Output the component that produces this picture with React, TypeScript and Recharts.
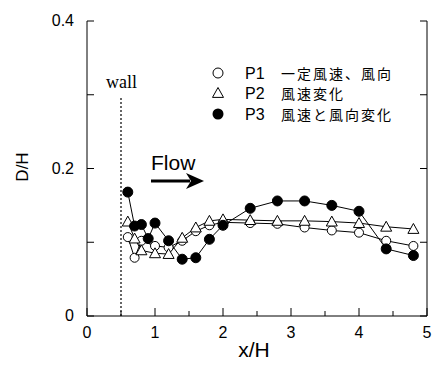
import React from 'react';
import { LineChart, Line, XAxis, YAxis, ReferenceLine, Customized } from 'recharts';

const xP1 = [0.6, 0.7, 0.8, 1.0, 1.2, 1.4, 1.6, 1.8, 2.0, 2.4, 2.8, 3.2, 3.6, 4.0, 4.4, 4.8];
const yP1 = [0.107, 0.079, 0.102, 0.095, 0.093, 0.102, 0.115, 0.123, 0.127, 0.126, 0.125, 0.12, 0.116, 0.113, 0.102, 0.095];
const xP2 = [0.6, 0.7, 0.8, 1.0, 1.2, 1.4, 1.6, 1.8, 2.0, 2.4, 2.8, 3.2, 3.6, 4.0, 4.4, 4.8];
const yP2 = [0.128, 0.105, 0.089, 0.085, 0.084, 0.106, 0.12, 0.129, 0.131, 0.13, 0.129, 0.129, 0.128, 0.126, 0.121, 0.118];
const xP3 = [0.6, 0.7, 0.8, 0.9, 1.0, 1.2, 1.4, 1.6, 1.8, 2.0, 2.4, 2.8, 3.2, 3.6, 4.0, 4.4, 4.8];
const yP3 = [0.168, 0.122, 0.124, 0.105, 0.126, 0.102, 0.077, 0.079, 0.104, 0.123, 0.146, 0.156, 0.156, 0.15, 0.142, 0.091, 0.082];

const xTicks = [0, 0.5, 1, 1.5, 2, 2.5, 3, 3.5, 4, 4.5, 5];
const yTicks = [0, 0.1, 0.2, 0.3, 0.4];
const yLabeled = [0, 0.2, 0.4];
const seriesNames = ['P1', 'P2', 'P3'];
const seriesDesc = ['一定風速、風向', '風速変化', '風速と風向変化'];
const wallX = 0.5;
const wallTop = 0.297;

const toData = (xs: number[], ys: number[]) => xs.map((x, i) => ({ x, y: ys[i] }));
const d1 = toData(xP1, yP1);
const d2 = toData(xP2, yP2);
const d3 = toData(xP3, yP3);

const SANS = '"Liberation Sans", Arial, Helvetica, sans-serif';
const CJK = '"Noto Sans CJK JP", "Liberation Sans", sans-serif';

const isInt = (v: number) => Math.abs(v - Math.round(v)) < 1e-9;

const BottomTick = (p: any) => {
  const v = p.payload.value;
  const major = isInt(v);
  return (
    <g>
      <line x1={p.x} x2={p.x} y1={p.y} y2={p.y - (major ? 8 : 5)} stroke="#000" strokeWidth={1} />
      {major && (
        <text x={p.x} y={p.y + 22} textAnchor="middle" fontSize={16} fontFamily={SANS} fill="#000">
          {String(v)}
        </text>
      )}
    </g>
  );
};

const TopTick = (p: any) => {
  const v = p.payload.value;
  const major = isInt(v);
  return <line x1={p.x} x2={p.x} y1={p.y} y2={p.y + (major ? 8 : 5)} stroke="#000" strokeWidth={1} />;
};

const LeftTick = (p: any) => {
  const v = p.payload.value;
  const lab = yLabeled.some((t) => Math.abs(t - v) < 1e-9);
  return (
    <g>
      <line x1={p.x} x2={p.x + 7} y1={p.y} y2={p.y} stroke="#000" strokeWidth={1} />
      {lab && (
        <text x={p.x - 13} y={p.y + 5} textAnchor="end" fontSize={16} fontFamily={SANS} fill="#000">
          {v === 0 ? '0' : v.toFixed(1)}
        </text>
      )}
    </g>
  );
};

const RightTick = (p: any) => (
  <line x1={p.x} x2={p.x - 7} y1={p.y} y2={p.y} stroke="#000" strokeWidth={1} />
);

const TriDot = (p: any) => {
  const { cx, cy } = p;
  if (cx == null || cy == null) return null;
  const s = 5.5;
  return (
    <polygon
      key={`t-${cx}-${cy}`}
      points={`${cx},${cy - s} ${cx - s},${cy + s * 0.8} ${cx + s},${cy + s * 0.8}`}
      fill="#fff"
      stroke="#000"
      strokeWidth={1}
    />
  );
};

const Annotations = () => {
  const rows = [73, 93, 114];
  return (
    <g>
      <text x={106} y={88} fontSize={18} fontFamily='"Liberation Serif", "Times New Roman", serif' fill="#000">
        wall
      </text>
      <text x={151} y={170} fontSize={21} fontFamily={SANS} fill="#000">
        Flow
      </text>
      <line x1={151} x2={190} y1={181} y2={181} stroke="#000" strokeWidth={3} />
      <polygon points="186,173 204,181 186,189 191,181" fill="#000" />
      <text x={22} y={167} fontSize={17} fontFamily={SANS} fill="#000" textAnchor="middle" transform="rotate(-90 22 167)" dominantBaseline="central">
        D/H
      </text>
      <text x={254} y={357} fontSize={21} fontFamily={SANS} fill="#000" textAnchor="middle">
        x/H
      </text>
      {/* legend */}
      <circle cx={218} cy={rows[0]} r={5} fill="#fff" stroke="#000" strokeWidth={1} />
      <polygon points={`218,${rows[1] - 5.5} 212.5,${rows[1] + 4.4} 223.5,${rows[1] + 4.4}`} fill="#fff" stroke="#000" strokeWidth={1} />
      <circle cx={218} cy={rows[2]} r={5.5} fill="#000" />
      {seriesNames.map((n, i) => (
        <g key={n}>
          <text x={245} y={rows[i] + 6} fontSize={16} fontFamily={SANS} fill="#000">
            {n}
          </text>
          <text x={281} y={rows[i] + 6} fontSize={14} letterSpacing={2} fontFamily={CJK} fill="#000">
            {seriesDesc[i]}
          </text>
        </g>
      ))}
    </g>
  );
};

export default function App() {
  return (
    <div style={{ position: 'absolute', left: 0, top: 0, width: 436, height: 374, background: '#fff' }}>
      <LineChart width={436} height={374} margin={{ top: 21, right: 0, bottom: 0, left: 0 }}>
        <XAxis
          xAxisId="bottom"
          type="number"
          dataKey="x"
          domain={[0, 5]}
          ticks={xTicks}
          interval={0}
          height={58}
          tickSize={0}
          tickMargin={0}
          tick={<BottomTick />}
          axisLine={{ stroke: '#000', strokeWidth: 1 }}
          allowDataOverflow
        />
        <XAxis
          xAxisId="top"
          orientation="top"
          type="number"
          dataKey="x"
          domain={[0, 5]}
          ticks={xTicks}
          interval={0}
          height={0}
          tickSize={0}
          tickMargin={0}
          tick={<TopTick />}
          axisLine={{ stroke: '#000', strokeWidth: 1 }}
          allowDataOverflow
        />
        <YAxis
          yAxisId="left"
          type="number"
          domain={[0, 0.4]}
          ticks={yTicks}
          interval={0}
          width={87}
          tickSize={0}
          tickMargin={0}
          tick={<LeftTick />}
          axisLine={{ stroke: '#000', strokeWidth: 1 }}
          allowDataOverflow
        />
        <YAxis
          yAxisId="right"
          orientation="right"
          type="number"
          domain={[0, 0.4]}
          ticks={yTicks}
          interval={0}
          width={9}
          tickSize={0}
          tickMargin={0}
          tick={<RightTick />}
          axisLine={{ stroke: '#000', strokeWidth: 1 }}
          allowDataOverflow
        />
        <ReferenceLine
          xAxisId="bottom"
          yAxisId="left"
          segment={[{ x: wallX, y: 0 }, { x: wallX, y: wallTop }]}
          stroke="#000"
          strokeWidth={1.2}
          strokeDasharray="2 2"
        />
        <Line
          xAxisId="bottom"
          yAxisId="left"
          data={d1}
          dataKey="y"
          stroke="#000"
          strokeWidth={1}
          isAnimationActive={false}
          dot={{ r: 4.5, fill: '#fff', stroke: '#000', strokeWidth: 1 }}
        />
        <Line
          xAxisId="bottom"
          yAxisId="left"
          data={d2}
          dataKey="y"
          stroke="#000"
          strokeWidth={1}
          isAnimationActive={false}
          dot={<TriDot />}
        />
        <Line
          xAxisId="bottom"
          yAxisId="left"
          data={d3}
          dataKey="y"
          stroke="#000"
          strokeWidth={1}
          isAnimationActive={false}
          dot={{ r: 5, fill: '#000', stroke: '#000', strokeWidth: 1 }}
        />
        <Customized component={<Annotations />} />
      </LineChart>
    </div>
  );
}
